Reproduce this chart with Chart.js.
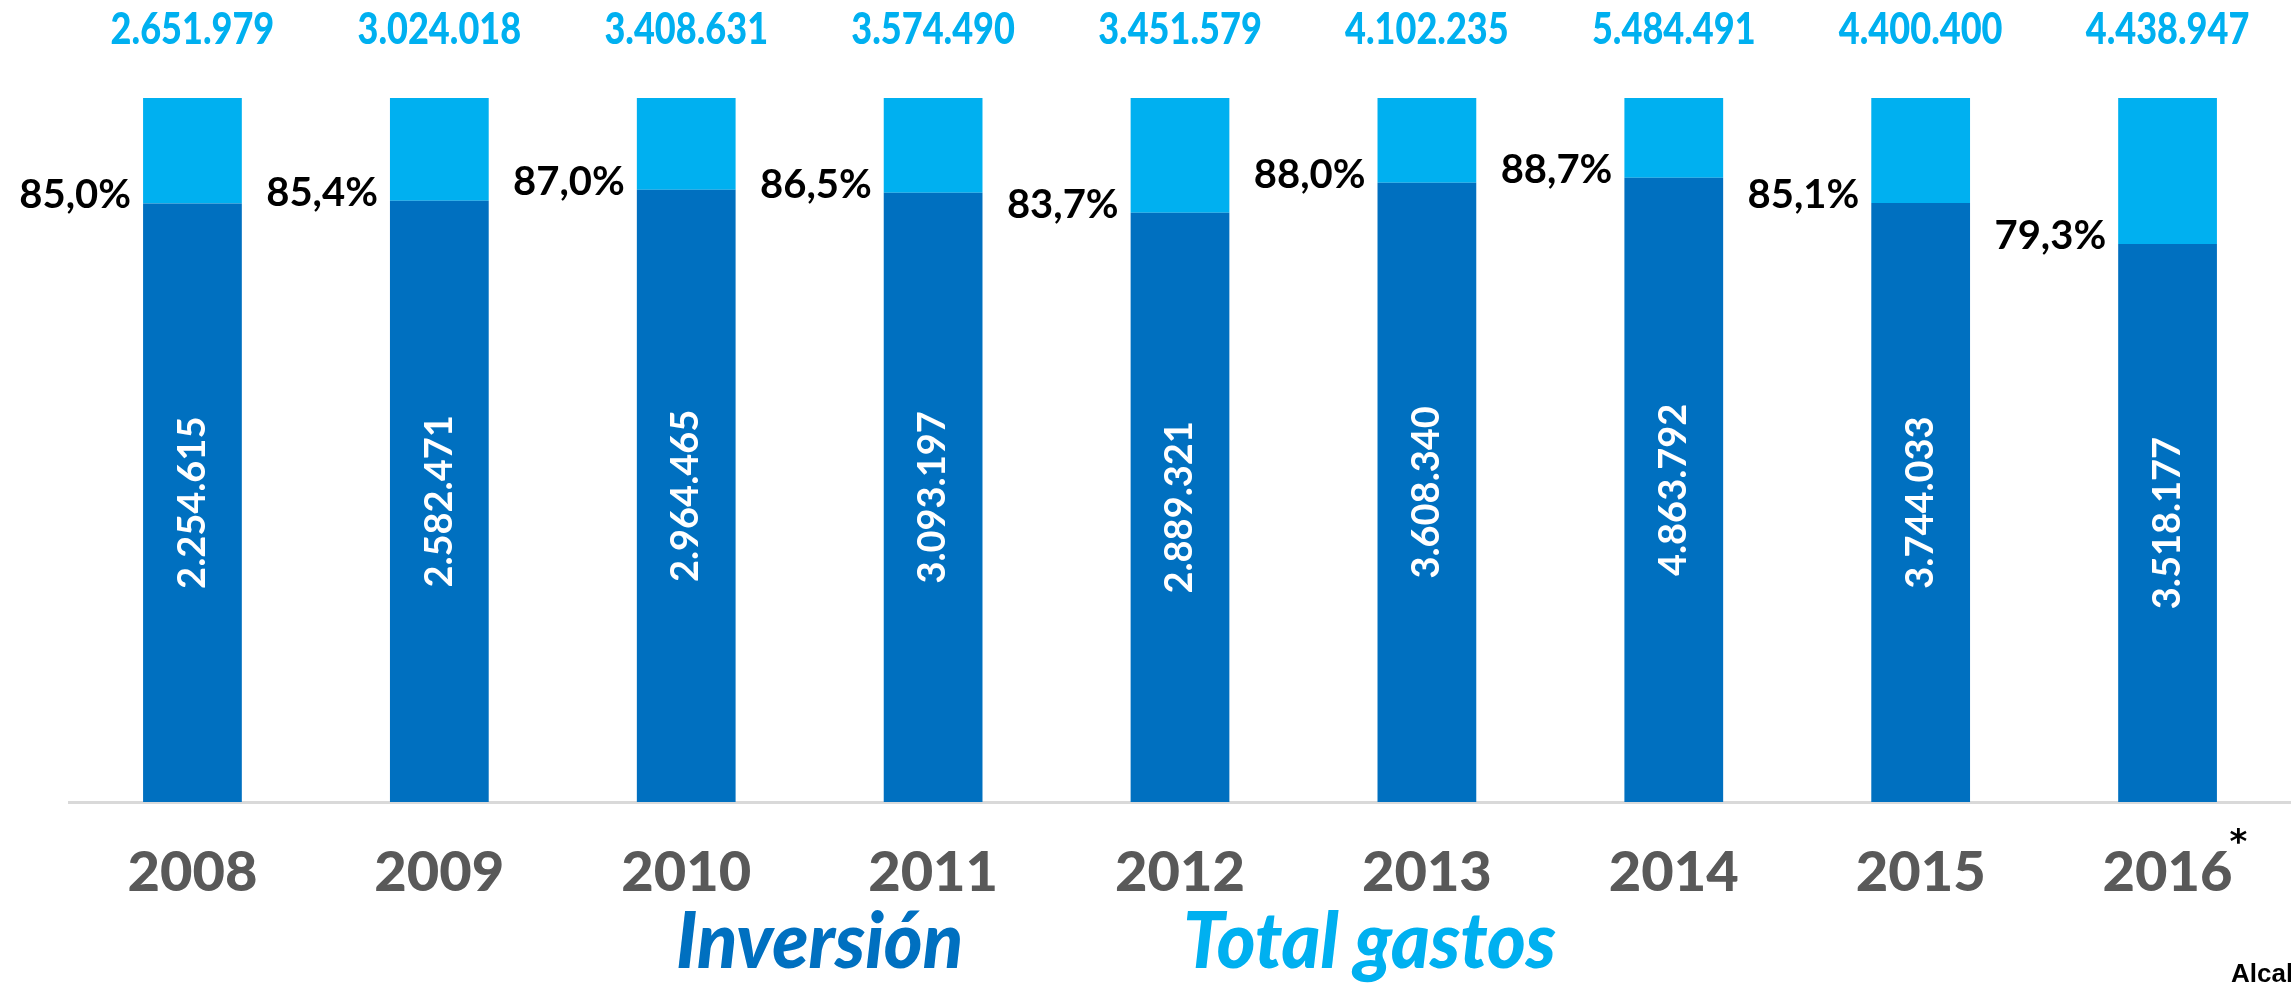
<!DOCTYPE html>
<html>
<head>
<meta charset="utf-8">
<script src="https://cdn.jsdelivr.net/npm/chart.js@4/dist/chart.umd.min.js"></script>
<style>
  html, body { margin: 0; padding: 0; background: #ffffff; }
  #wrap { width: 2291px; height: 984px; }
</style>
</head>
<body>
<div id="wrap"><canvas id="grafico"></canvas></div>
<script>
// Datos del gráfico
const anios = ['2008', '2009', '2010', '2011', '2012', '2013', '2014', '2015', '2016'];
const inversion = [2254615, 2582471, 2964465, 3093197, 2889321, 3608340, 4863792, 3744033, 3518177];
const totalGastos = [2651979, 3024018, 3408631, 3574490, 3451579, 4102235, 5484491, 4400400, 4438947];
const porcentajes = ['85,0%', '85,4%', '87,0%', '86,5%', '83,7%', '88,0%', '88,7%', '85,1%', '79,3%'];

const AZUL = '#0070C0';
const CELESTE = '#00B0F0';

// Barras al 100%: parte de inversión y el resto del gasto
const parteInversion = inversion.map((v, i) => v / totalGastos[i] * 100);
const parteResto = parteInversion.map(p => 100 - p);

function formatoMiles(n) {
    return n.toString().replace(/\B(?=(\d{3})+(?!\d))/g, '.');
}

const etiquetasPlugin = {
    id: 'etiquetas',
    afterDatasetsDraw(chart) {
        const ctx = chart.ctx;
        const area = chart.chartArea;
        const barras = chart.getDatasetMeta(0).data;

        barras.forEach((bar, i) => {
            const ancho = bar.width;

            // valor de inversión, vertical dentro de la barra
            ctx.save();
            ctx.translate(bar.x, (bar.y + bar.base) / 2);
            ctx.rotate(-Math.PI / 2);
            ctx.fillStyle = '#ffffff';
            ctx.font = 'bold 38px Lato';
            ctx.textAlign = 'center';
            ctx.textBaseline = 'middle';
            ctx.fillText(formatoMiles(inversion[i]), 0, 0);
            ctx.restore();

            // porcentaje a la izquierda de la barra
            ctx.save();
            ctx.fillStyle = '#000000';
            ctx.font = 'bold 40px Lato';
            ctx.textAlign = 'right';
            ctx.textBaseline = 'middle';
            ctx.fillText(porcentajes[i], bar.x - ancho / 2 - 12, bar.y - 8);
            ctx.restore();

            // total de gastos arriba
            ctx.save();
            ctx.fillStyle = CELESTE;
            ctx.font = '900 44px Lato';
            ctx.textAlign = 'center';
            ctx.textBaseline = 'middle';
            ctx.translate(bar.x, area.top - 68);
            ctx.scale(0.82, 1);
            ctx.fillText(formatoMiles(totalGastos[i]), 0, 0);
            ctx.restore();
        });

        // asterisco del último año
        const ultima = barras[barras.length - 1];
        ctx.save();
        ctx.fillStyle = '#000000';
        ctx.font = 'bold 34px "DejaVu Sans"';
        ctx.textAlign = 'left';
        ctx.textBaseline = 'middle';
        ctx.fillText('*', ultima.x + 62, area.bottom + 42);
        ctx.restore();

        // leyenda
        ctx.save();
        ctx.textBaseline = 'alphabetic';
        ctx.textAlign = 'left';
        ctx.font = 'italic 900 78px Lato';
        ctx.translate(676, 968);
        ctx.scale(0.95, 1);
        ctx.fillStyle = AZUL;
        ctx.fillText('Inversión', 0, 0);
        ctx.fillStyle = CELESTE;
        ctx.fillText('Total gastos', (1183 - 676) / 0.95, 0);
        ctx.restore();

        // fuente (cortada en el borde)
        ctx.save();
        ctx.fillStyle = '#000000';
        ctx.font = 'bold 26px "Liberation Sans"';
        ctx.textAlign = 'left';
        ctx.textBaseline = 'alphabetic';
        ctx.fillText('Alcalá de Henares', 2231, 982);
        ctx.restore();
    }
};

const ctx = document.getElementById('grafico').getContext('2d');
new Chart(ctx, {
    type: 'bar',
    data: {
        labels: anios,
        datasets: [{
            label: 'Inversión',
            data: parteInversion,
            backgroundColor: AZUL,
            categoryPercentage: 0.4,
            barPercentage: 1
        }, {
            label: 'Total gastos',
            data: parteResto,
            backgroundColor: CELESTE,
            categoryPercentage: 0.4,
            barPercentage: 1
        }]
    },
    options: {
        responsive: true,
        maintainAspectRatio: false,
        animation: false,
        layout: { padding: { top: 98, left: 69, right: 0, bottom: 40 } },
        plugins: {
            legend: { display: false },
            tooltip: { enabled: false }
        },
        scales: {
            x: {
                stacked: true,
                grid: { display: false, drawTicks: false },
                border: { display: true, color: '#D9D9D9', width: 3 },
                ticks: {
                    color: '#595959',
                    font: { family: 'Lato', weight: '900', size: 56, lineHeight: 1 },
                    padding: 43
                }
            },
            y: {
                stacked: true,
                display: false,
                min: 0,
                max: 100
            }
        }
    },
    plugins: [etiquetasPlugin]
});
</script>
</body>
</html>
